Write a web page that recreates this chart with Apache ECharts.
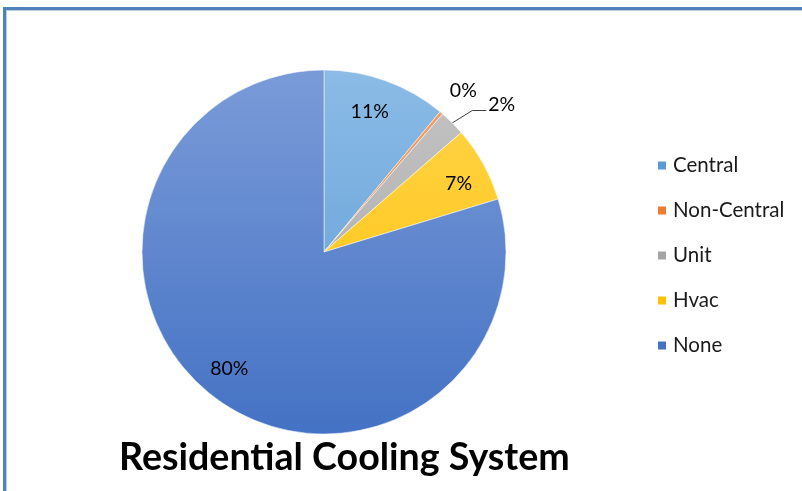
<!DOCTYPE html>
<html>
<head>
<meta charset="utf-8">
<title>Residential Cooling System</title>
<script src="https://cdn.jsdelivr.net/npm/echarts@6/dist/echarts.min.js"></script>
<style>
  html, body { margin: 0; padding: 0; background: #ffffff; }
  #frame {
    position: absolute; left: 3px; top: 7px; width: 810px; height: 500px;
    border-top: 3px solid #4f81bd; border-left: 3px solid #4f81bd;
    box-shadow: inset 1px 1px 0 #b9cde5;
  }
  #chart { position: absolute; left: 0; top: 0; width: 802px; height: 491px; }
</style>
</head>
<body>
<div id="frame"></div>
<div id="chart"></div>
<script>
// Share of homes by cooling system type (percent)
const categories = ['Central', 'Non-Central', 'Unit', 'Hvac', 'None'];
const shares = [11.0, 0.3, 2.3, 6.7, 79.7];

// Base colours and the lighter tone at the top of each gradient
const baseColors = ['#5b9bd5', '#ed7d31', '#a5a5a5', '#ffc000', '#4472c4'];
const lightColors = ['#8bbbe6', '#f5a06a', '#c4c4c4', '#ffd54d', '#7a9bd8'];

const CX = 324, CY = 252, R = 182;

// Where each label sits: angle shift (deg) from the slice middle and radius
const labelPlacement = [
  { shift: -1.8, r: 148 },
  { shift: 0.7, r: 213 },
  { shift: 5.5, r: 231, leader: true },
  { shift: 2.0, r: 151 },
  { shift: 2.6, r: 150 }
];

const total = shares.reduce((a, b) => a + b, 0);
const midAngles = [];
let acc = 0;
shares.forEach(v => { midAngles.push((acc + v / 2) / total * 360); acc += v; });

function polar(deg, r) {
  const a = deg * Math.PI / 180;
  return [CX + r * Math.sin(a), CY - r * Math.cos(a)];
}

function gradient(i) {
  return {
    type: 'linear', global: true, x: 0, y: CY - R, x2: 0, y2: CY + R,
    colorStops: [{ offset: 0, color: lightColors[i] }, { offset: 1, color: baseColors[i] }]
  };
}

const chart = echarts.init(document.getElementById('chart'), null, { renderer: 'canvas' });

chart.setOption({
  animation: false,
  title: {
    text: 'Residential Cooling System',
    left: 114, top: 434,
    textStyle: { fontFamily: 'Lato', fontWeight: 'bold', fontSize: 37.6, color: '#000000' }
  },
  legend: {
    orient: 'vertical', left: 651, top: 150,
    itemWidth: 10, itemHeight: 10, itemGap: 24,
    icon: 'rect',
    data: categories.map((c, i) => ({ name: c, itemStyle: { color: baseColors[i] } })),
    textStyle: { fontFamily: 'Lato', fontSize: 20.5, color: '#1a1a1a', padding: [0, 0, 0, 1] }
  },
  series: [{
    type: 'pie',
    center: [CX, CY],
    radius: R,
    startAngle: 90,
    clockwise: true,
    percentPrecision: 0,
    avoidLabelOverlap: false,
    minShowLabelAngle: 0,
    itemStyle: { borderColor: '#ffffff', borderWidth: 0.5 },
    label: {
      show: true, position: 'inside', formatter: '{d}%',
      fontFamily: 'Lato', fontSize: 19.5, color: '#000000'
    },
    labelLine: { show: false },
    emphasis: { disabled: true },
    data: categories.map((c, i) => ({
      name: c,
      value: shares[i],
      itemStyle: { color: gradient(i) },
      label: labelPlacement[i].leader ? { position: 'outside' } : undefined,
      labelLine: labelPlacement[i].leader ? { show: true, lineStyle: { color: '#404040', width: 1 } } : undefined
    })),
    labelLayout: function (params) {
      const i = params.dataIndex;
      const p = labelPlacement[i];
      const ang = midAngles[i] + p.shift;
      const pos = polar(ang, p.r);
      const out = { x: pos[0], y: pos[1], align: 'center', verticalAlign: 'middle' };
      if (p.leader) {
        const start = polar(midAngles[i], R);
        const left = pos[0] - params.labelRect.width / 2 - 2;
        const endY = pos[1] + 6;
        out.labelLinePoints = [start, [left - 14, endY], [left, endY]];
      }
      return out;
    }
  }]
});
</script>
</body>
</html>
